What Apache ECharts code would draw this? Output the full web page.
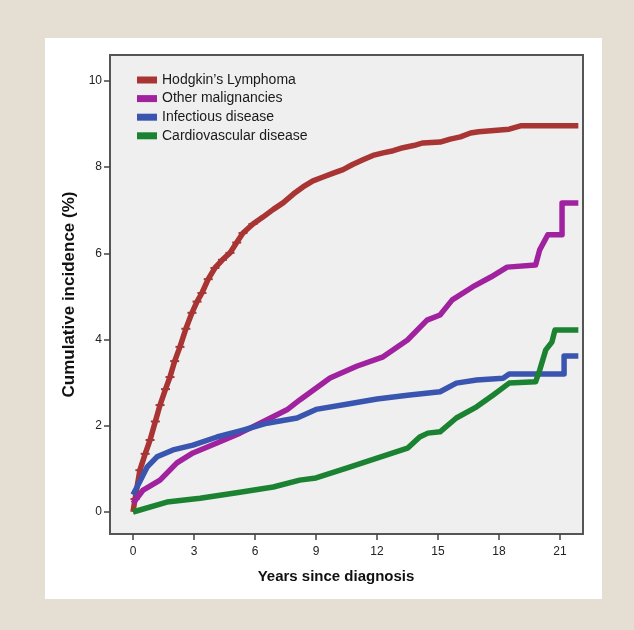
<!DOCTYPE html>
<html>
<head>
<meta charset="utf-8">
<script src="https://cdn.jsdelivr.net/npm/echarts/dist/echarts.min.js"></script>
<style>
  html, body { margin: 0; padding: 0; }
  #wrap { position: relative; width: 634px; height: 630px; background: #e5dfd3; overflow: hidden; }
  #panel { position: absolute; left: 45px; top: 38px; width: 557px; height: 561px; background: #ffffff; }
  #chart { position: absolute; left: 0; top: 0; width: 634px; height: 630px; }
</style>
</head>
<body>
<div id="wrap"><div id="panel"></div><div id="chart"></div></div>
<script>
// ---- data (years since diagnosis, cumulative incidence %) ----
const seriesNames = ["Hodgkin\u2019s Lymphoma", "Other malignancies", "Infectious disease", "Cardiovascular disease"];
const hodgkin = [[0,0],[0.1,0.3],[0.34,0.97],[0.6,1.35],[0.84,1.67],[1.1,2.1],[1.33,2.48],[1.6,2.85],[1.82,3.13],[2.05,3.5],[2.31,3.83],[2.6,4.25],[2.9,4.62],[3.15,4.88],[3.39,5.08],[3.7,5.4],[4.03,5.66],[4.4,5.85],[4.77,6.01],[5.1,6.25],[5.41,6.47],[5.9,6.68],[6.39,6.84],[6.9,7.02],[7.38,7.17],[7.9,7.38],[8.36,7.54],[8.85,7.68],[9.35,7.77],[9.85,7.86],[10.33,7.94],[10.8,8.06],[11.31,8.17],[11.8,8.27],[12.3,8.33],[12.8,8.38],[13.28,8.45],[13.8,8.5],[14.26,8.56],[15.1,8.58],[15.6,8.65],[16.1,8.7],[16.6,8.79],[17.0,8.82],[18.5,8.88],[19.1,8.96],[21.9,8.96]];
const otherMalig = [[0,0.2],[0.5,0.51],[1.33,0.74],[2.16,1.14],[2.95,1.37],[4.13,1.6],[5.26,1.83],[6.25,2.06],[7.57,2.37],[8.2,2.6],[9.69,3.11],[11.0,3.38],[12.3,3.6],[13.5,3.99],[14.46,4.45],[15.1,4.57],[15.7,4.92],[16.7,5.22],[17.6,5.45],[18.4,5.68],[19.8,5.73],[20.0,6.08],[20.4,6.43],[21.1,6.43],[21.1,7.17],[21.9,7.17]];
const infectious = [[0,0.4],[0.2,0.58],[0.69,1.04],[1.18,1.28],[1.97,1.44],[2.95,1.55],[4.13,1.74],[5.41,1.9],[6.59,2.06],[8.07,2.18],[9,2.38],[10.5,2.5],[12,2.62],[13.5,2.71],[15.1,2.79],[15.9,2.99],[16.9,3.06],[18.2,3.1],[18.5,3.2],[21.2,3.2],[21.2,3.62],[21.9,3.62]];
const cardio = [[0,0],[1.67,0.23],[3.3,0.32],[5.26,0.46],[6.9,0.58],[8.2,0.74],[9,0.79],[10.5,1.02],[12,1.25],[13.5,1.48],[14.1,1.74],[14.5,1.83],[15.1,1.86],[15.9,2.18],[16.9,2.44],[17.7,2.71],[18.5,2.99],[19.8,3.02],[20.0,3.29],[20.3,3.76],[20.6,3.94],[20.75,4.22],[21.9,4.22]];
const xTicks = [0,3,6,9,12,15,18,21];
const yTicks = [0,2,4,6,8,10];
const colors = ["#a83434", "#a0229f", "#3a55b0", "#1b8232"];

const allData = [hodgkin, otherMalig, infectious, cardio];
const chart = echarts.init(document.getElementById('chart'), null, { renderer: 'canvas' });

const series = allData.map((d, i) => ({
  name: seriesNames[i],
  type: 'line',
  data: d.map(p => ({
    value: p,
    symbolSize: (i === 0 && p[0] > 0 && p[0] < 6) ? [9, 2] : 0
  })),
  symbol: 'rect',
  showSymbol: true,
  showAllSymbol: true,
  color: colors[i],
  itemStyle: { color: colors[i] },
  lineStyle: { width: 5.5, color: colors[i], join: 'round' },
  animation: false,
  z: 2 + i
}));

chart.setOption({
  animation: false,
  textStyle: { fontFamily: 'Liberation Sans, Arial, sans-serif' },
  grid: {
    left: 110, top: 55, right: 51, bottom: 96,
    show: true, backgroundColor: '#efefef', borderColor: '#555', borderWidth: 2
  },
  legend: {
    orient: 'vertical', left: 137, top: 73, padding: 0,
    icon: 'rect', itemWidth: 20, itemHeight: 7, itemGap: 4.6,
    textStyle: { fontSize: 14, color: '#1a1a1a', lineHeight: 14, fontFamily: 'Liberation Sans, Arial, sans-serif' },
    data: seriesNames
  },
  xAxis: {
    type: 'value', min: -1.13, max: 22.13,
    name: 'Years since diagnosis', nameLocation: 'middle', nameGap: 35,
    nameTextStyle: { fontSize: 15, fontWeight: 'bold', color: '#111', padding: [0, 21, 0, 0] },
    axisLine: { show: true, onZero: false, lineStyle: { color: '#555', width: 2 } },
    axisTick: { show: true, inside: false, length: 6, lineStyle: { color: '#444', width: 1.5 }, customValues: xTicks },
    axisLabel: { fontSize: 12, color: '#222', margin: 12, customValues: xTicks },
    splitLine: { show: false }
  },
  yAxis: {
    type: 'value', min: -0.51, max: 10.6,
    name: 'Cumulative incidence (%)', nameLocation: 'middle', nameGap: 31,
    nameTextStyle: { fontSize: 17, fontWeight: 'bold', color: '#111' },
    axisLine: { show: true, onZero: false, lineStyle: { color: '#555', width: 2 } },
    axisTick: { show: true, inside: false, length: 6, lineStyle: { color: '#444', width: 1.5 }, customValues: yTicks },
    axisLabel: { fontSize: 12, color: '#222', margin: 8, customValues: yTicks },
    splitLine: { show: false }
  },
  series: series
});
</script>
</body>
</html>
